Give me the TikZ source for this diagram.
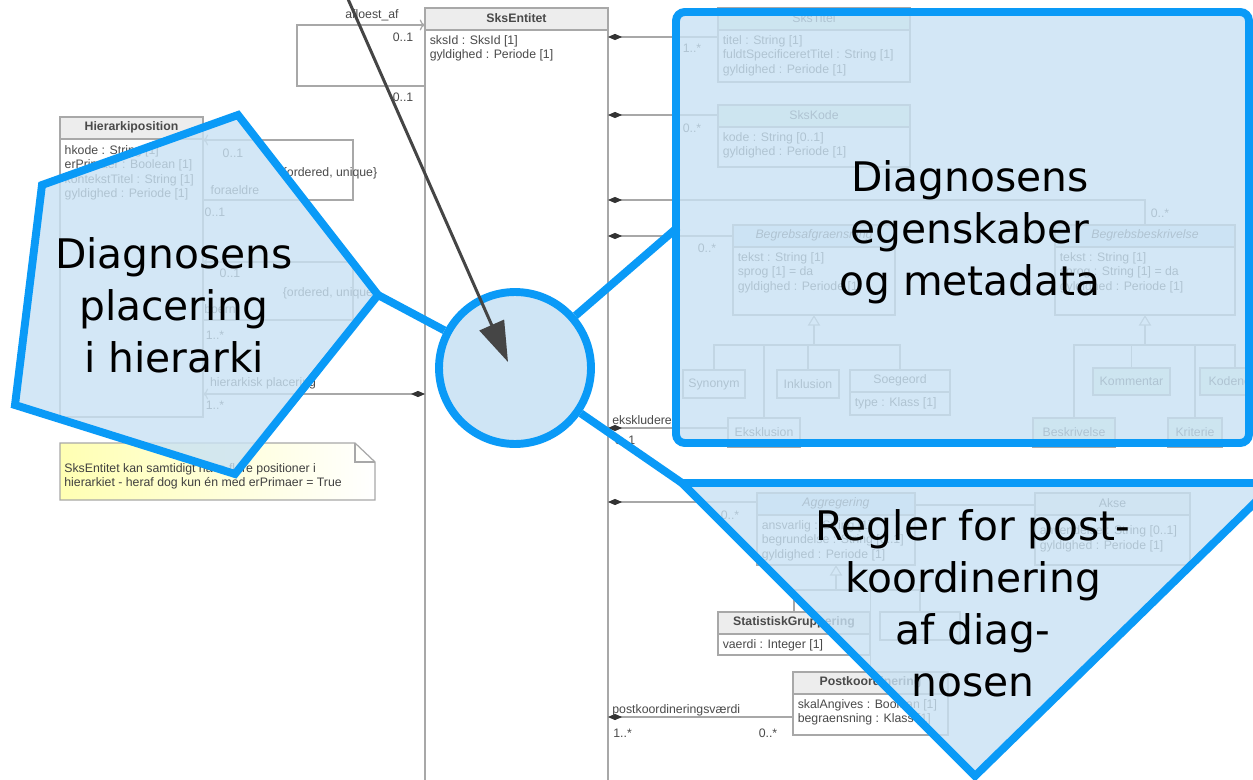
\documentclass[tikz,border=0pt]{standalone}
\usepackage{fontspec}
\setmainfont{DejaVu Sans}
\newfontfamily\umlfont{Liberation Sans}
\usetikzlibrary{positioning,arrows.meta,calc}

\definecolor{callblue}{HTML}{0A9AF7}
\definecolor{callfill}{HTML}{C9E2F4}
\definecolor{circfill}{HTML}{CFE5F5}
\definecolor{umlline}{HTML}{A8A8A8}
\definecolor{umltext}{HTML}{4A4A4A}
\definecolor{headgrey}{HTML}{EDEDED}
\definecolor{headgreen}{HTML}{DDF3E4}
\definecolor{headblue}{HTML}{DCE8F4}
\definecolor{arrowgrey}{HTML}{454545}

\tikzset{
  umlbox/.style={draw=umlline, line width=0.7pt, inner sep=0pt, outer sep=0pt, anchor=north west,
    font=\umlfont\fontsize{7}{8}\selectfont, text=umltext},
  umlclass/.style={umlbox, path picture={
    \fill[#1] (path picture bounding box.north west) rectangle ([yshift=-12.5pt]path picture bounding box.north east);
    \draw[umlline, line width=0.7pt] ([yshift=-12.5pt]path picture bounding box.north west) -- ([yshift=-12.5pt]path picture bounding box.north east);}},
  umlclass/.default=headgrey,
  umlhead/.style={font=\umlfont\fontsize{7}{8}\selectfont\bfseries, text=umltext, inner sep=0pt},
  abshead/.style={umlhead, font=\umlfont\fontsize{7}{8}\selectfont\itshape},
  umlattr/.style={font=\umlfont\fontsize{7}{8.2}\selectfont, text=umltext, anchor=north west, align=left, inner sep=0pt},
  umllabel/.style={font=\umlfont\fontsize{7}{8}\selectfont, text=umltext, inner sep=0pt},
  assoc/.style={draw=umlline, line width=0.7pt},
  compo/.style={{Diamond[length=8pt,width=3.5pt,color=black!80]}-},
  callout/.style={draw=callblue, line width=4.5pt, fill=callfill, fill opacity=0.8},
  calltext/.style={font=\fontsize{23.2}{29.6}\selectfont, align=center, text=black, inner sep=0pt}
}

\begin{document}
\begin{tikzpicture}[x=0.02cm, y=-0.02cm]
\useasboundingbox (0,0) rectangle (1253,780);
\clip (0,0) rectangle (1253,780);
\fill[white] (0,0) rectangle (1253,780);

% SksEntitet
\node[umlclass, minimum width=3.66cm, minimum height=15.64cm] (ent) at (425,8) {};
\node[umlhead] (ent-t) at ([yshift=-5.7pt]ent.north) {SksEntitet};
\node[umlattr] (ent-a) at ([xshift=2.5pt,yshift=-15.5pt]ent.north west) {sksId : SksId [1]\\gyldighed : Periode [1]};
\draw[assoc, -{To[length=3pt]}] (ent.west |- 0,86) -- ++(-128,0) |- (ent.west |- 0,25);
\node[umllabel] (afl) at (372,15) {afloest\_af};
\node[umllabel] (afl-m1) at (403,37) {0..1};
\node[umllabel] (afl-m2) at (403,97) {0..1};

% Hierarkiposition
\node[umlclass, minimum width=2.86cm, minimum height=6cm] (hpos) at (60,117) {};
\node[umlhead] (hpos-t) at ([yshift=-5.7pt]hpos.north) {Hierarkiposition};
\node[umlattr] (hpos-a) at ([xshift=2.5pt,yshift=-16pt]hpos.north west) {hkode : String [1]\\erPrimaer : Boolean [1]\\kontekstTitel : String [1]\\gyldighed : Periode [1]};
\draw[assoc, -{To[length=3pt]}] (hpos.east |- 0,200) -- ++(150,0) |- (hpos.east |- 0,140);
\node[umllabel] (fo-m1) at (233,153) {0..1};
\node[umllabel] (fo-c) at (330,173) {\{ordered, unique\}};
\node[umllabel] (fo) at (235,190) {foraeldre};
\node[umllabel] (fo-m2) at (215,212) {0..1};
\draw[assoc, -{To[length=3pt]}] (hpos.east |- 0,320) -- ++(150,0) |- (hpos.east |- 0,262);
\node[umllabel] (bo-m1) at (230,273) {0..1};
\node[umllabel] (bo-c) at (330,293) {\{ordered, unique\}};
\node[umllabel] (bo) at (220,309) {boern};
\node[umllabel] (bo-m2) at (215,335) {1..*};
\draw[assoc, {To[length=3pt]}-{Diamond[length=8pt,width=3.5pt,color=black!80]}] (hpos.east |- 0,394) -- (ent.west |- 0,394);
\node[umllabel] (hp) at (263,383) {hierarkisk placering};
\node[umllabel] (hp-m) at (215,405) {1..*};

% note
\shade[left color=yellow!30, right color=white, draw=umlline, line width=0.7pt] (60,443) -- (355,443) -- (375,462) -- (375,500) -- (60,500) -- cycle;
\draw[umlline, line width=0.7pt] (355,443) -- (355,462) -- (375,462);
\node[umlattr, text=black!75] (note) at (64,463) {SksEntitet kan samtidigt have flere positioner i\\hierarkiet - heraf dog kun én med erPrimaer = True};

% egenskaber
\node[umlclass=headgreen, minimum width=3.84cm, minimum height=1.48cm] (tit) at (718,8) {};
\node[umlhead, font=\umlfont\fontsize{7}{8}\selectfont] (tit-t) at ([yshift=-5.7pt]tit.north) {SksTitel};
\node[umlattr] (tit-a) at ([xshift=2.5pt,yshift=-15.5pt]tit.north west) {titel : String [1]\\fuldtSpecificeretTitel : String [1]\\gyldighed : Periode [1]};
\draw[assoc, compo] (ent.east |- 0,37) -- (tit.west |- 0,37);
\node[umllabel] (tit-m) at (692,48) {1..*};

\node[umlclass=headgreen, minimum width=3.84cm, minimum height=1.24cm] (kode) at (718,105) {};
\node[umlhead, font=\umlfont\fontsize{7}{8}\selectfont] (kode-t) at ([yshift=-5.7pt]kode.north) {SksKode};
\node[umlattr] (kode-a) at ([xshift=2.5pt,yshift=-15.5pt]kode.north west) {kode : String [0..1]\\gyldighed : Periode [1]};
\draw[assoc, compo] (ent.east |- 0,115) -- (kode.west |- 0,115);
\node[umllabel] (kode-m) at (692,128) {0..*};

\node[umlclass=headblue, minimum width=3.24cm, minimum height=1.8cm] (bafg) at (733,225) {};
\node[abshead] (bafg-t) at ([yshift=-5.7pt]bafg.north) {Begrebsafgraensning};
\node[umlattr] (bafg-a) at ([xshift=2.5pt,yshift=-15.5pt]bafg.north west) {tekst : String [1]\\sprog [1] = da\\gyldighed : Periode [1]};
\draw[assoc, compo] (ent.east |- 0,236) -- (bafg.west |- 0,236);
\node[umllabel] (bafg-m) at (707,248) {0..*};

\node[umlclass=headblue, minimum width=3.6cm, minimum height=1.8cm] (bbes) at (1055,225) {};
\node[abshead] (bbes-t) at ([yshift=-5.7pt]bbes.north) {Begrebsbeskrivelse};
\node[umlattr] (bbes-a) at ([xshift=2.5pt,yshift=-15.5pt]bbes.north west) {tekst : String [1]\\sprog : String [1] = da\\gyldighed : Periode [1]};
\draw[assoc, compo] (ent.east |- 0,200) -| (bbes.north);
\node[umllabel] (bbes-m) at (1160,213) {0..*};

\node[umlbox, minimum width=1.24cm, minimum height=0.56cm] (syn) at (683,370) {Synonym};
\node[umlbox, minimum width=1.24cm, minimum height=0.56cm] (ink) at (777,370) {Inklusion};
\node[umlclass=white, minimum width=2cm, minimum height=0.9cm] (soeg) at (850,370) {};
\node[umlhead, font=\umlfont\fontsize{7}{8}\selectfont] (soeg-t) at ([yshift=-5.7pt]soeg.north) {Soegeord};
\node[umlattr] (soeg-a) at ([xshift=2.5pt,yshift=-15.5pt]soeg.north west) {type : Klass [1]};
\node[umlbox, minimum width=1.44cm, minimum height=0.58cm] (eks) at (728,418) {Eksklusion};
\draw[assoc, -{Triangle[open,length=6pt,width=7pt]}] (bafg.south |- 0,345) -- (bafg.south);
\draw[assoc] (syn.north) -- (syn.north |- 0,345) -- (soeg.north |- 0,345) -- (soeg.north);
\draw[assoc] (eks.north) -- (eks.north |- 0,345);
\draw[assoc] (ink.north) -- (ink.north |- 0,345);
\draw[assoc, compo] (ent.east |- 0,428) -- (eks.west |- 0,428);
\node[umllabel, anchor=west] (eks-l) at (612,420) {ekskluderer};
\node[umllabel] (eks-m) at (625,440) {0..1};

\node[umlbox, fill=headgreen, minimum width=1.54cm, minimum height=0.54cm] (komm) at (1093,368) {Kommentar};
\node[umlbox, fill=headgreen, minimum width=1.4cm, minimum height=0.54cm] (kodn) at (1200,368) {Kodenote};
\node[umlbox, fill=headgreen, minimum width=1.64cm, minimum height=0.58cm] (besk) at (1033,418) {Beskrivelse};
\node[umlbox, fill=headgreen, minimum width=1.08cm, minimum height=0.58cm] (krit) at (1168,418) {Kriterie};
\draw[assoc, -{Triangle[open,length=6pt,width=7pt]}] (bbes.south |- 0,345) -- (bbes.south);
\draw[assoc] (besk.north) -- (besk.north |- 0,345) -- (kodn.north |- 0,345) -- (kodn.north);
\draw[assoc] (komm.north) -- (komm.north |- 0,345);
\draw[assoc] (krit.north) -- (krit.north |- 0,345);

% postkoordinering
\node[umlclass=headblue, minimum width=3.16cm, minimum height=1.44cm] (aggr) at (757,493) {};
\node[abshead] (aggr-t) at ([yshift=-5.7pt]aggr.north) {Aggregering};
\node[umlattr] (aggr-a) at ([xshift=2.5pt,yshift=-15.5pt]aggr.north west) {ansvarlig : String [1]\\begrundelse : String [0..1]\\gyldighed : Periode [1]};
\draw[assoc, compo] (ent.east |- 0,502) -- (aggr.west |- 0,502);
\node[umllabel] (aggr-m) at (730,515) {0..*};

\node[umlclass, minimum width=3.1cm, minimum height=1.44cm] (akse) at (1035,493) {};
\node[umlhead, font=\umlfont\fontsize{7}{8}\selectfont] (akse-t) at ([yshift=-5.7pt]akse.north) {Akse};
\node[umlattr] (akse-a) at ([xshift=2.5pt,yshift=-15.5pt]akse.north west) {\\anvendelse : String [0..1]\\gyldighed : Periode [1]};
\draw[assoc] (aggr.east |- 0,505) -- (akse.west |- 0,505);

\node[umlclass, minimum width=3.04cm, minimum height=0.86cm] (statg) at (718,612) {};
\node[umlhead] (statg-t) at ([yshift=-5.7pt]statg.north) {StatistiskGruppering};
\node[umlattr] (statg-a) at ([xshift=2.5pt,yshift=-15.5pt]statg.north west) {vaerdi : Integer [1]};
\node[umlbox, minimum width=1.6cm, minimum height=0.56cm] (valg) at (880,612) {};
\node[umlclass, minimum width=3.1cm, minimum height=1.26cm] (post) at (793,672) {};
\node[umlhead] (post-t) at ([yshift=-5.7pt]post.north) {Postkoordinering};
\node[umlattr] (post-a) at ([xshift=2.5pt,yshift=-15.5pt]post.north west) {skalAngives : Boolean [1]\\begraensning : Klass [1]};
\draw[assoc, -{Triangle[open,length=6pt,width=7pt]}] (aggr.south |- 0,590) -- (aggr.south);
\draw[assoc] (statg.north) -- (statg.north |- 0,590) -- (valg.north |- 0,590) -- (valg.north);
\draw[assoc] (post.north) -- (post.north |- 0,590);
\draw[assoc, compo] (ent.east |- 0,717) -- (post.west |- 0,717);
\node[umllabel, anchor=west] (post-l) at (612,710) {postkoordineringsværdi};
\node[umllabel, anchor=west] (post-m1) at (613,733) {1..*};
\node[umllabel] (post-m2) at (768,733) {0..*};

% callouts
\node[circle, draw=callblue, line width=4.5pt, fill=circfill, minimum size=3.04cm] (circ) at (515,368) {};
\coordinate (pv) at (378,295);
\coordinate (rectin) at (678,227);
\coordinate (trin) at (682,483);
\draw[callblue, line width=4.5pt] (pv) -- (circ);
\draw[callblue, line width=4.5pt] (circ) -- (rectin);
\draw[callblue, line width=4.5pt] (circ) -- (trin);
\draw[callout] (42,185) -- (238,115) -- (pv) -- (235,474) -- (15,405) -- cycle;
\draw[callout, rounded corners=5pt] (676,12) rectangle (1249,443);
\draw[callout] (trin) -- (1275,483) -- (975,776) -- cycle;
\node[calltext] (ptext) at (174,305) {Diagnosens\\placering\\i hierarki};
\node[calltext] (rtext) at (970,232) {Diagnosens\\egenskaber\\og metadata};
\node[calltext] (ttext) at (973,603) {Regler for post-\\koordinering\\af diag-\\nosen};

% pointer
\coordinate (arrtop) at (344,-10);
\coordinate (arrtip) at (508,362);
\draw[arrowgrey, line width=1.7pt, -{Triangle[length=23pt,width=15pt]}] (arrtop) -- (arrtip);
\end{tikzpicture}
\end{document}
